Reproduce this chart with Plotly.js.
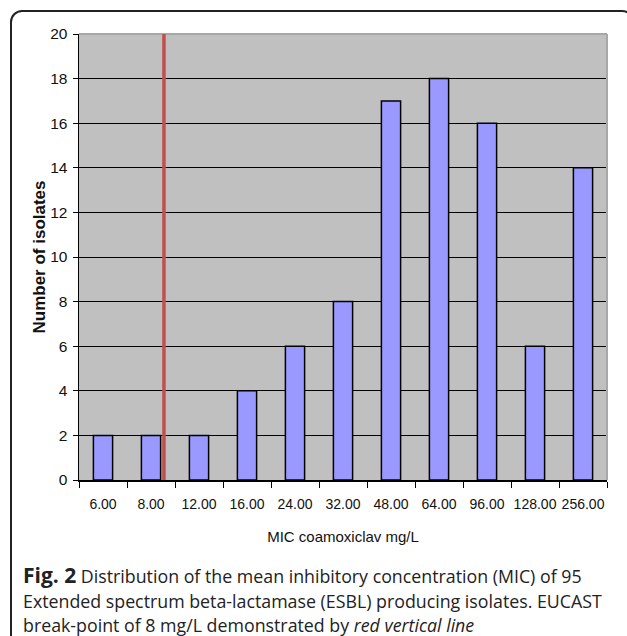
<!DOCTYPE html>
<html>
<head>
<meta charset="utf-8">
<script src="https://cdn.plot.ly/plotly-3.0.1.min.js"></script>
<style>
html,body{margin:0;padding:0;background:#fff;overflow:hidden;}
#wrap{position:relative;width:627px;height:636px;overflow:hidden;}
#chart{position:absolute;left:0;top:0;width:627px;height:636px;}
#frame{position:absolute;left:10px;top:10px;width:620px;height:700px;border:2px solid #222;border-radius:12px;pointer-events:none;}
</style>
</head>
<body>
<div id="wrap">
<div id="chart"></div>
<div id="frame"></div>
</div>
<script>
const categories = ["6.00","8.00","12.00","16.00","24.00","32.00","48.00","64.00","96.00","128.00","256.00"];
const isolates = [2,2,2,4,6,8,17,18,16,6,14];
const yTicks = [0,2,4,6,8,10,12,14,16,18,20];
const breakpointPos = 1.27; // EUCAST break-point (8 mg/L), just right of the 8.00 bar
const captionLines = [
  "<span style=\"font-size:21px\"><b>Fig. 2</b></span> Distribution of the mean inhibitory concentration (MIC) of 95",
  "Extended spectrum beta-lactamase (ESBL) producing isolates. EUCAST",
  "break-point of 8 mg/L demonstrated by <i>red vertical line</i>"
];

const W = 627, H = 636, mL = 79, mR = 20, mT = 34, mB = 156;
const pw = W - mL - mR, ph = H - mT - mB;
const px2paperX = px => (px - mL) / pw;
const py2paperY = py => (H - mB - py) / ph;

const sans = "'Liberation Sans', Arial, sans-serif";

const trace = {
  type: 'bar',
  x: categories,
  y: isolates,
  marker: {color: '#9999ff', line: {color: '#000', width: 1.5}},
  hoverinfo: 'x+y'
};

const captionY = [575, 601, 625];
const annotations = captionLines.map((t, i) => ({
  text: t, xref: 'paper', yref: 'paper',
  x: px2paperX(21), y: py2paperY(captionY[i]),
  xanchor: 'left', yanchor: 'middle', showarrow: false,
  font: {family: "'Open Sans', 'Noto Sans', sans-serif", size: 17.8, color: '#222'}
}));

const layout = {
  width: W, height: H,
  margin: {l: mL, r: mR, t: mT, b: mB, pad: 0},
  paper_bgcolor: '#fff',
  plot_bgcolor: '#c0c0c0',
  bargap: 0.6,
  showlegend: false,
  xaxis: {
    type: 'category',
    range: [-0.5, categories.length - 0.5],
    showline: true, linecolor: '#000', linewidth: 1.5,
    ticks: 'outside', tickson: 'boundaries', ticklen: 6, tickcolor: '#000', tickwidth: 1,
    tickangle: 0, ticklabelstandoff: 11,
    showgrid: false, zeroline: false,
    tickfont: {family: sans, size: 14, color: '#111'},
    title: {text: 'MIC coamoxiclav mg/L', font: {family: sans, size: 15, color: '#111'}, standoff: 20},
    automargin: false, fixedrange: true
  },
  yaxis: {
    range: [0, 20],
    tickvals: yTicks,
    showline: true, linecolor: '#000', linewidth: 1.5,
    ticks: 'outside', ticklen: 5, tickcolor: '#000', tickwidth: 1,
    ticklabelstandoff: 2,
    showgrid: true, gridcolor: '#000', gridwidth: 1,
    zeroline: false,
    tickfont: {family: sans, size: 15.5, color: '#111'},
    title: {text: 'Number of isolates', font: {family: sans, size: 17, color: '#111', weight: 'bold'}, standoff: 0},
    automargin: false, fixedrange: true
  },
  shapes: [
    {type: 'line', xref: 'paper', yref: 'paper', x0: 0, x1: 1, y0: 1, y1: 1, line: {color: '#a8a8a8', width: 2}, layer: 'above'},
    {type: 'line', xref: 'paper', yref: 'paper', x0: 1, x1: 1, y0: 0, y1: 1, line: {color: '#a8a8a8', width: 2}, layer: 'above'},
    {type: 'line', xref: 'x', yref: 'paper', x0: breakpointPos, x1: breakpointPos, y0: 0, y1: 1, line: {color: '#c0504d', width: 3.5}, layer: 'above'}
  ],
  annotations: annotations
};

Plotly.newPlot('chart', [trace], layout, {displayModeBar: false, staticPlot: true});
</script>
</body>
</html>
